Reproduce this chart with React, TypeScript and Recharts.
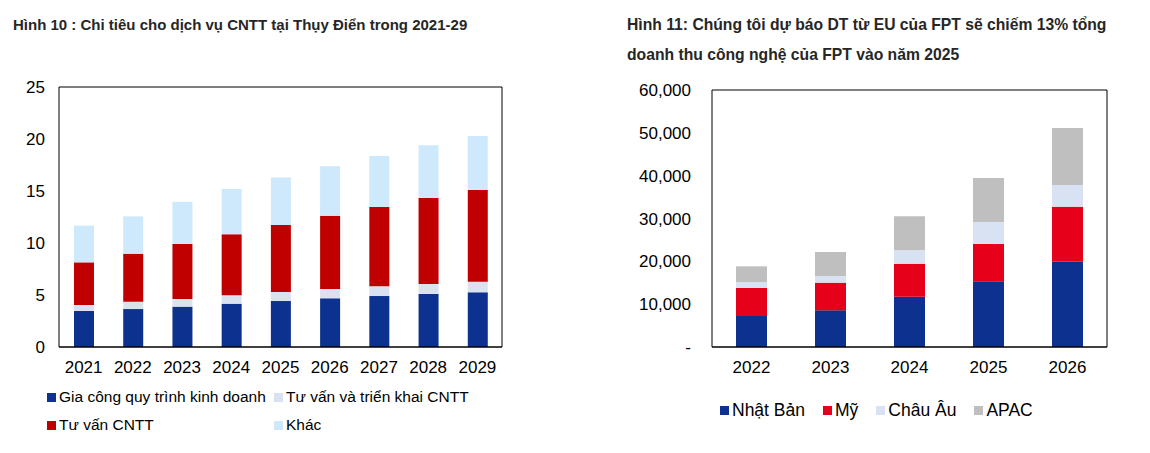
import { Bar, BarChart, CartesianGrid, XAxis, YAxis } from "recharts";

// Hình 10 - Thụy Điển (tỷ)
const yearsSweden = ["2021", "2022", "2023", "2024", "2025", "2026", "2027", "2028", "2029"];
const bpo = [3.46, 3.65, 3.88, 4.17, 4.42, 4.68, 4.9, 5.1, 5.26];
const itImplementation = [0.58, 0.71, 0.74, 0.8, 0.87, 0.9, 0.93, 0.96, 1.02];
const itConsulting = [4.1, 4.61, 5.28, 5.86, 6.44, 7.05, 7.63, 8.27, 8.82];
const others = [3.53, 3.59, 4.07, 4.36, 4.58, 4.74, 4.91, 5.06, 5.19];
const swedenTicks = [0, 5, 10, 15, 20, 25];

// Hình 11 - FPT
const yearsFpt = ["2022", "2023", "2024", "2025", "2026"];
const japan = [7240, 8560, 11750, 15330, 19920];
const usa = [6530, 6460, 7710, 8720, 12840];
const europe = [1410, 1560, 3110, 5130, 5060];
const apac = [3650, 5600, 7930, 10280, 13310];
const fptTicks = [0, 10000, 20000, 30000, 40000, 50000, 60000];

const FONT = '"Liberation Sans", Arial, sans-serif';

const swedenSeries = [
  { key: "bpo", name: "Gia công quy trình kinh doanh", color: "#0C318E" },
  { key: "impl", name: "Tư vấn và triển khai CNTT", color: "#DAE1F1" },
  { key: "consult", name: "Tư vấn CNTT", color: "#C00000" },
  { key: "other", name: "Khác", color: "#CDE9FB" },
];

const fptSeries = [
  { key: "japan", name: "Nhật Bản", color: "#0C318E" },
  { key: "usa", name: "Mỹ", color: "#E60019" },
  { key: "europe", name: "Châu Âu", color: "#D9E2F3" },
  { key: "apac", name: "APAC", color: "#BFBFBF" },
];

const swedenData = yearsSweden.map((year, i) => ({
  year,
  bpo: bpo[i],
  impl: itImplementation[i],
  consult: itConsulting[i],
  other: others[i],
}));

const fptData = yearsFpt.map((year, i) => ({
  year,
  japan: japan[i],
  usa: usa[i],
  europe: europe[i],
  apac: apac[i],
}));

// top + right edges of the plot box
const topEdge = ({ offset }: any) => [offset.top];
const rightEdge = ({ offset }: any) => [offset.left + offset.width];

const Swatch = ({ color }: { color: string }) => (
  <span
    style={{ display: "inline-block", width: 9, height: 9, background: color, marginRight: 3 }}
  />
);

const SwedenChart = () => (
  <div style={{ position: "absolute", left: 0, top: 0, width: 560, height: 453 }}>
    <div
      style={{
        position: "absolute",
        left: 13,
        top: 15,
        fontSize: 15,
        lineHeight: "20px",
        fontWeight: 700,
        color: "#262626",
        whiteSpace: "nowrap",
      }}
    >
      Hình 10 : Chi tiêu cho dịch vụ CNTT tại Thụy Điển trong 2021-29
    </div>
    <BarChart
      width={560}
      height={453}
      data={swedenData}
      margin={{ top: 87, right: 58, bottom: 76, left: 0 }}
      style={{ fontFamily: FONT }}
    >
      <CartesianGrid
        stroke="#000"
        strokeWidth={1}
        horizontalCoordinatesGenerator={topEdge}
        verticalCoordinatesGenerator={rightEdge}
      />
      <XAxis
        dataKey="year"
        interval={0}
        height={30}
        tickLine={false}
        tickSize={6}
        tickMargin={8}
        axisLine={{ stroke: "#000", strokeWidth: 1.5 }}
        tick={{ fontSize: 17, fill: "#000" }}
      />
      <YAxis
        domain={[0, 25]}
        ticks={swedenTicks}
        width={59}
        tickLine={false}
        tickSize={6}
        tickMargin={8}
        axisLine={{ stroke: "#000", strokeWidth: 1 }}
        tick={{ fontSize: 17, fill: "#000" }}
      />
      {swedenSeries.map((s) => (
        <Bar
          key={s.key}
          dataKey={s.key}
          name={s.name}
          stackId="a"
          fill={s.color}
          barSize={20}
          isAnimationActive={false}
        />
      ))}
    </BarChart>
    <div
      style={{
        position: "absolute",
        left: 47,
        top: 387,
        display: "grid",
        gridTemplateColumns: "227px 227px",
        rowGap: 8,
        fontFamily: FONT,
        fontSize: 15.5,
        lineHeight: "20px",
        color: "#000",
      }}
    >
      {swedenSeries.map((s) => (
        <div key={s.key} style={{ display: "flex", alignItems: "center", whiteSpace: "nowrap" }}>
          <Swatch color={s.color} />
          {s.name}
        </div>
      ))}
    </div>
  </div>
);

const FptChart = () => (
  <div style={{ position: "absolute", left: 600, top: 0, width: 550, height: 453 }}>
    <div
      style={{
        position: "absolute",
        left: 27,
        top: 10,
        fontSize: 15.7,
        lineHeight: "30px",
        fontWeight: 700,
        color: "#262626",
        whiteSpace: "nowrap",
      }}
    >
      Hình 11: Chúng tôi dự báo DT từ EU của FPT sẽ chiếm 13% tổng
      <br />
      doanh thu công nghệ của FPT vào năm 2025
    </div>
    <BarChart
      width={550}
      height={453}
      data={fptData}
      margin={{ top: 90, right: 43, bottom: 76, left: 0 }}
      style={{ fontFamily: FONT }}
    >
      <CartesianGrid
        stroke="#000"
        strokeWidth={1}
        horizontalCoordinatesGenerator={topEdge}
        verticalCoordinatesGenerator={rightEdge}
      />
      <XAxis
        dataKey="year"
        interval={0}
        height={30}
        tickLine={false}
        tickSize={6}
        tickMargin={8}
        axisLine={{ stroke: "#000", strokeWidth: 1.5 }}
        tick={{ fontSize: 17, fill: "#000" }}
      />
      <YAxis
        domain={[0, 60000]}
        ticks={fptTicks}
        width={112}
        tickLine={false}
        tickSize={6}
        tickMargin={15}
        axisLine={{ stroke: "#000", strokeWidth: 1 }}
        tick={{ fontSize: 17, fill: "#000" }}
        tickFormatter={(v: number) => (v === 0 ? "-" : v.toLocaleString("en-US"))}
      />
      {fptSeries.map((s) => (
        <Bar
          key={s.key}
          dataKey={s.key}
          name={s.name}
          stackId="a"
          fill={s.color}
          barSize={31}
          isAnimationActive={false}
        />
      ))}
    </BarChart>
    <div
      style={{
        position: "absolute",
        left: 120,
        top: 399,
        display: "flex",
        fontFamily: FONT,
        fontSize: 17.5,
        lineHeight: "22px",
        color: "#000",
      }}
    >
      {fptSeries.map((s) => (
        <div
          key={s.key}
          style={{ display: "flex", alignItems: "center", whiteSpace: "nowrap", marginRight: 18 }}
        >
          <Swatch color={s.color} />
          {s.name}
        </div>
      ))}
    </div>
  </div>
);

export default function App() {
  return (
    <div
      style={{
        position: "absolute",
        left: 0,
        top: 0,
        width: 1150,
        height: 453,
        background: "#fff",
        fontFamily: FONT,
        overflow: "hidden",
      }}
    >
      <SwedenChart />
      <FptChart />
    </div>
  );
}
